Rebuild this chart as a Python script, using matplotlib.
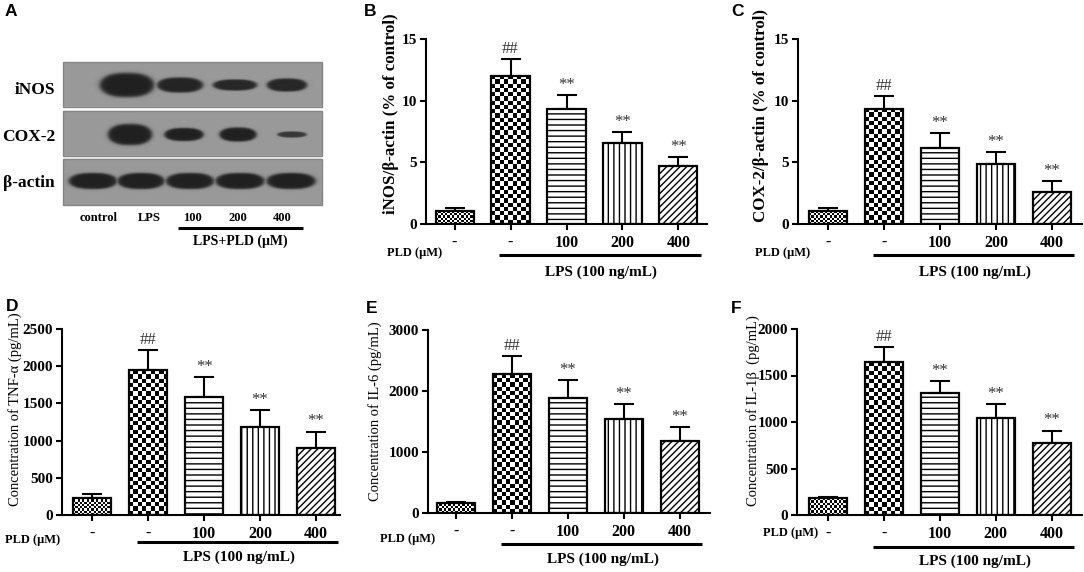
import numpy as np
import matplotlib
matplotlib.use("Agg")
import matplotlib.pyplot as plt
from matplotlib.patches import Rectangle

plt.rcParams['font.family'] = ['Liberation Serif', 'DejaVu Serif']
plt.rcParams['hatch.linewidth'] = 1.0

W, H = 1084, 572

# ---- data ----
tick_labels = ['-', '-', '100', '200', '400']
marks = ['', '##', '**', '**', '**']

inos_mean = [1.05, 12.0, 9.3, 6.55, 4.72]
inos_err = [0.22, 1.4, 1.16, 0.89, 0.74]
cox2_mean = [1.05, 9.33, 6.2, 4.84, 2.62]
cox2_err = [0.25, 1.07, 1.2, 0.96, 0.87]
tnf_mean = [235, 1943, 1589, 1180, 897]
tnf_err = [45, 278, 260, 229, 225]
il6_mean = [160, 2278, 1888, 1546, 1183]
il6_err = [20, 288, 287, 233, 227]
il1b_mean = [178, 1641, 1307, 1048, 779]
il1b_err = [18, 165, 136, 148, 129]

# western blot bands (pixel layout of panel A): centre x, half width, half height, strength
blot_rows = ['iNOS', 'COX-2', 'β-actin']
lane_labels = ['control', 'LPS', '100', '200', '400']
inos_x = [127, 180, 235, 287]
inos_w = [27, 23, 22, 20]
inos_h = [12, 7.5, 5.5, 6.5]
inos_s = [1.0, 0.97, 0.95, 0.95]
cox2_x = [130, 184, 238, 292]
cox2_w = [22, 19.5, 18.5, 14.5]
cox2_h = [10.5, 6.5, 7, 3]
cox2_s = [1.0, 1.0, 1.0, 0.8]
actin_x = [93, 141, 190, 240, 291]
actin_w = [24, 23.5, 24, 24.5, 24.5]
actin_h = [8, 8, 8, 8, 8]
actin_s = [1.0, 1.0, 1.0, 1.0, 1.0]


def px_rect(l, t, r, b):
    return [l / W, 1 - b / H, (r - l) / W, (b - t) / H]


def fxy(x, y):
    return x / W, 1 - y / H


fig = plt.figure(figsize=(10.84, 5.72), dpi=100)

# ---- panel A: blot ----
axa = fig.add_axes(px_rect(0, 0, 360, 290))
axa.set_xlim(0, 360)
axa.set_ylim(290, 0)
axa.axis('off')

row_y = [(62, 107), (111, 156), (159, 205)]
row_c = [85, 134.5, 181]
bands = [(inos_x, inos_w, inos_h, inos_s),
         (cox2_x, cox2_w, cox2_h, cox2_s),
         (actin_x, actin_w, actin_h, actin_s)]
bx0, bx1 = 63, 322
gx = np.arange(bx0, bx1, 0.5) + 0.25
gy = np.arange(row_y[0][0], row_y[2][1], 0.5) + 0.25
X, Y = np.meshgrid(gx, gy)
img = np.ones_like(X)
bg, dark = 0.6, 0.13
for (y0, y1), yc, (bxs, bws, bhs, bss) in zip(row_y, row_c, bands):
    inside = (Y >= y0) & (Y <= y1)
    m = np.zeros_like(X)
    for cx, a, b, s in zip(bxs, bws, bhs, bss):
        d = np.sqrt((np.abs(X - cx) / a) ** 2.6 + (np.abs(Y - yc) / b) ** 2)
        m = np.maximum(m, s / (1 + np.exp((d - 1) / 0.07)))
    img[inside] = (bg - (bg - dark) * m)[inside]
axa.imshow(img, cmap='gray', vmin=0, vmax=1, extent=(bx0, bx1, row_y[2][1], row_y[0][0]),
           interpolation='bilinear', aspect='auto')
for (y0, y1) in row_y:
    axa.add_patch(Rectangle((bx0, y0), bx1 - bx0, y1 - y0, fill=False, ec='#858585', lw=1))
axa.set_xlim(0, 360)
axa.set_ylim(290, 0)
for name, yc in zip(blot_rows, [90, 137, 183]):
    axa.text(55, yc, name, ha='right', va='center', fontsize=12.5, fontweight='bold')
for name, xc in zip(lane_labels, [99, 149, 192, 238, 282]):
    axa.text(xc, 218, name, ha='center', va='center', fontsize=9, fontweight='bold')
axa.plot([178, 303], [228, 228], color='black', lw=2.2, solid_capstyle='butt')
axa.text(240, 241, 'LPS+PLD (μM)', ha='center', va='center', fontsize=10, fontweight='bold')


def checker_fill(ax, bar, cell):
    x0, w, h = bar.get_x(), bar.get_width(), bar.get_height()
    p0 = ax.transData.transform((x0, 0))
    p1 = ax.transData.transform((x0 + w, h))
    nx = max(1, int(round((p1[0] - p0[0]) / cell)))
    ny = max(1, int(round((p1[1] - p0[1]) / cell)))
    chk = np.indices((ny, nx)).sum(axis=0) % 2
    im = ax.imshow(chk, cmap='gray', vmin=0, vmax=1, extent=(x0, x0 + w, 0, h), origin='lower',
                   aspect='auto', interpolation='nearest', zorder=1.5)
    im.set_clip_path(bar)


panels = [
    dict(letter='B', rect=(426, 39, 707, 224), xlim=(-0.51, 4.51), ymax=15, step=5,
         mean=inos_mean, err=inos_err, ylabel='iNOS/β-actin (% of control)', bold=True,
         lab=(391, 114), lpos=(364, 0), pld=(387, 253), line=-0.168, lps=-0.26),
    dict(letter='C', rect=(798, 39, 1082, 224), xlim=(-0.54, 4.54), ymax=15, step=5,
         mean=cox2_mean, err=cox2_err, ylabel='COX-2/β-actin (% of control)', bold=True,
         lab=(761, 115), lpos=(731, 0), pld=(755, 253), line=-0.168, lps=-0.26),
    dict(letter='D', rect=(62, 329, 340, 515), xlim=(-0.54, 4.43), ymax=2500, step=500,
         mean=tnf_mean, err=tnf_err, ylabel='Concentration of TNF-α (pg/mL)', bold=False,
         lab=(15, 409), lpos=(6, 295), pld=(5, 540), line=-0.145, lps=-0.226),
    dict(letter='E', rect=(428, 330, 710, 513), xlim=(-0.5, 4.54), ymax=3000, step=1000,
         mean=il6_mean, err=il6_err, ylabel='Concentration of IL-6 (pg/mL)', bold=False,
         lab=(375, 411), lpos=(366, 297), pld=(380, 539), line=-0.17, lps=-0.255),
    dict(letter='F', rect=(797, 329, 1082, 515), xlim=(-0.55, 4.54), ymax=2000, step=500,
         mean=il1b_mean, err=il1b_err, ylabel='Concentration of IL-1β  (pg/mL)', bold=False,
         lab=(753, 411), lpos=(731, 297), pld=(763, 533), line=-0.172, lps=-0.25),
]

hatches = ['', '', '---', '|||', '/////']
x = np.arange(5)

fig.text(*fxy(5, 4), 'A', family='Liberation Sans', fontweight='bold', fontsize=12.5, va='top')

for p in panels:
    ax = fig.add_axes(px_rect(*p['rect']))
    ax.set_xlim(*p['xlim'])
    ax.set_ylim(0, p['ymax'])
    face = ax.bar(x, p['mean'], width=0.68, color='white', edgecolor='none', zorder=1)
    checker_fill(ax, face[0], 2.3)
    checker_fill(ax, face[1], 4.2)
    edges = ax.bar(x, p['mean'], width=0.68, fill=False, edgecolor='black', linewidth=1.6, zorder=2)
    for patch, hh in zip(edges, hatches):
        patch.set_hatch(hh)
    ax.errorbar(x, p['mean'], yerr=[np.zeros(5), p['err']], fmt='none', ecolor='black',
                elinewidth=1.5, capsize=7, capthick=1.5, zorder=0.8)
    for i in range(1, 5):
        ax.annotate(marks[i], (x[i], p['mean'][i] + p['err'][i]), xytext=(0, 1.5),
                    textcoords='offset points', ha='center', va='bottom', fontsize=12,
                    color='#333333')
    ax.set_xlim(*p['xlim'])
    ax.set_ylim(0, p['ymax'])
    ax.set_yticks(np.arange(0, p['ymax'] + 1, p['step']))
    ax.set_xticks(x)
    ax.set_xticklabels(tick_labels)
    for s in ['top', 'right']:
        ax.spines[s].set_visible(False)
    for s in ['left', 'bottom']:
        ax.spines[s].set_linewidth(1.5)
    ax.tick_params(axis='y', length=4.3, width=1.5, pad=2, labelsize=11)
    ax.tick_params(axis='x', length=4.3, width=1.5, pad=3.5, labelsize=11.5)
    for t in ax.get_xticklabels() + ax.get_yticklabels():
        t.set_fontweight('bold')

    fig.text(*fxy(*p['lab']), p['ylabel'], rotation=90, ha='center', va='center',
             fontsize=12.2 if p['bold'] else 10.5, fontweight='bold' if p['bold'] else 'normal')
    fig.text(*fxy(*p['pld']), 'PLD (μM)', ha='left', va='center', fontsize=9, fontweight='bold')
    trans = ax.get_xaxis_transform()
    ax.plot([0.8, 4.4], [p['line'], p['line']], transform=trans, color='black', lw=2.2,
            clip_on=False, solid_capstyle='butt')
    ax.text(2.62, p['lps'], 'LPS (100 ng/mL)', transform=trans, ha='center', va='center',
            fontsize=11, fontweight='bold')
    fig.text(*fxy(p['lpos'][0], p['lpos'][1] + 4), p['letter'], family='Liberation Sans',
             fontweight='bold', fontsize=12.5, va='top')

fig.savefig('out.png', dpi=100)
